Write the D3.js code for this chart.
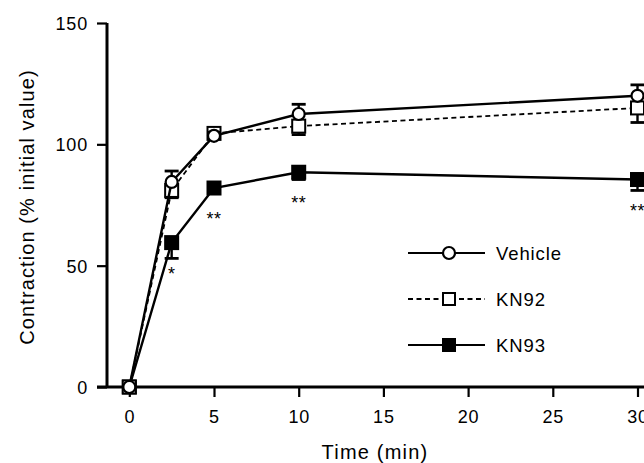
<!DOCTYPE html>
<html><head><meta charset="utf-8">
<script src="https://cdn.jsdelivr.net/npm/d3@7"></script>
<style>body{margin:0;background:#fff}svg{display:block}text{font-family:"Liberation Sans",Arial,sans-serif;fill:#000}</style>
</head><body><svg id="c" width="644" height="463"></svg>
<script>
const times = [0, 2.5, 5, 10, 30];
const vehicle = [0, 84.5, 103.5, 112.5, 120];
const vehicleSem = [0, 4.5, 1.5, 4, 4.5];
const kn92 = [0, 81, 104.5, 107.5, 115];
const kn92Sem = [0, 3, 2, 3.5, 6];
const kn93 = [0, 59.5, 82, 88.5, 85.5];
const kn93Sem = [0, 6.5, 2, 3, 4.5];
const xTicks = [0, 5, 10, 15, 20, 25, 30];
const yTicks = [0, 50, 100, 150];
const sigMarks = [{t: 2.5, label: "*"}, {t: 5, label: "**"}, {t: 10, label: "**"}, {t: 30, label: "**"}];
const seriesNames = ["Vehicle", "KN92", "KN93"];

const svg = d3.select("#c");
const x = d3.scaleLinear().domain([0, 30]).range([129.3, 637.5]);
const y = d3.scaleLinear().domain([0, 150]).range([387, 23]);

// axes
const yAxis = svg.append("g").attr("transform", "translate(107,0)")
  .call(d3.axisLeft(y).tickValues(yTicks).tickSize(10).tickPadding(9));
yAxis.attr("font-size", null).attr("font-family", null);
yAxis.select(".domain").attr("stroke-width", 3).attr("d", `M0,${y(150)}V${y(0)}`);
yAxis.selectAll(".tick line").attr("stroke-width", 2.2);
yAxis.selectAll(".tick text").style("font-size", "18px").style("letter-spacing", "0.8px").attr("dy", "0.36em");

const xAxis = svg.append("g").attr("transform", "translate(0,387)")
  .call(d3.axisBottom(x).tickValues(xTicks).tickSize(10).tickPadding(13));
xAxis.attr("font-size", null).attr("font-family", null);
xAxis.select(".domain").attr("stroke-width", 3).attr("d", "M97,0H644");
xAxis.selectAll(".tick line").attr("stroke-width", 2.2);
xAxis.selectAll(".tick text").style("font-size", "18px").style("letter-spacing", "0.8px");

svg.append("text").attr("x", 375).attr("y", 459).attr("text-anchor", "middle")
  .style("font-size", "20px").style("letter-spacing", "1.2px").text("Time (min)");
svg.append("text").attr("transform", "translate(34,207) rotate(-90)").attr("text-anchor", "middle")
  .style("font-size", "20px").style("letter-spacing", "1.1px").text("Contraction (% initial value)");

const series = [
  {name: seriesNames[0], vals: vehicle, sem: vehicleSem, dir: -1, dash: null, sym: "circle", fill: "#fff"},
  {name: seriesNames[1], vals: kn92, sem: kn92Sem, dir: 1, dash: "5,3.5", sym: "square", fill: "#fff"},
  {name: seriesNames[2], vals: kn93, sem: kn93Sem, dir: 1, dash: null, sym: "square", fill: "#000"}
];

const line = d3.line().x(d => x(d[0])).y(d => y(d[1]));

function drawMarker(g, cx, cy, s, sz) {
  if (s.sym === "circle") {
    g.append("circle").attr("cx", cx).attr("cy", cy).attr("r", sz / 2)
      .attr("fill", s.fill).attr("stroke", "#000").attr("stroke-width", 2.2);
  } else {
    g.append("rect").attr("x", cx - sz / 2).attr("y", cy - sz / 2).attr("width", sz).attr("height", sz)
      .attr("fill", s.fill).attr("stroke", "#000").attr("stroke-width", 2);
  }
}

// draw order: KN93, KN92, Vehicle
[series[2], series[1], series[0]].forEach(s => {
  const pts = times.map((t, i) => [t, s.vals[i]]);
  svg.append("path").attr("d", line(pts)).attr("fill", "none").attr("stroke", "#000")
    .attr("stroke-width", s.dash ? 1.8 : 2.4).attr("stroke-dasharray", s.dash);
  const g = svg.append("g");
  times.forEach((t, i) => {
    if (s.sem[i] > 0) {
      const y0 = y(s.vals[i]), y1 = y(s.vals[i] - s.dir * s.sem[i]);
      g.append("line").attr("x1", x(t)).attr("x2", x(t)).attr("y1", y0).attr("y2", y1)
        .attr("stroke", "#000").attr("stroke-width", 2.4);
      g.append("line").attr("x1", x(t) - 7).attr("x2", x(t) + 7).attr("y1", y1).attr("y2", y1)
        .attr("stroke", "#000").attr("stroke-width", 2.8);
    }
  });
  times.forEach((t, i) => drawMarker(g, x(t), y(s.vals[i]), s, s.sym === "circle" ? 12 : 13));
});

// significance marks
sigMarks.forEach(m => {
  const i = times.indexOf(m.t);
  svg.append("text").attr("x", x(m.t)).attr("y", y(kn93[i]) + 37)
    .attr("text-anchor", "middle").style("font-size", "18px").style("letter-spacing", "0.5px").text(m.label);
});

// legend
const legY = [253, 299, 345];
series.forEach((s, k) => {
  const g = svg.append("g");
  g.append("line").attr("x1", 408).attr("x2", 485).attr("y1", legY[k]).attr("y2", legY[k])
    .attr("stroke", "#000").attr("stroke-width", s.dash ? 1.8 : 2).attr("stroke-dasharray", s.dash);
  drawMarker(g, 449, legY[k], s, 12);
  g.append("text").attr("x", 496).attr("y", legY[k] + 7).style("font-size", "18.5px")
    .style("letter-spacing", "0.9px").text(s.name);
});
</script></body></html>
